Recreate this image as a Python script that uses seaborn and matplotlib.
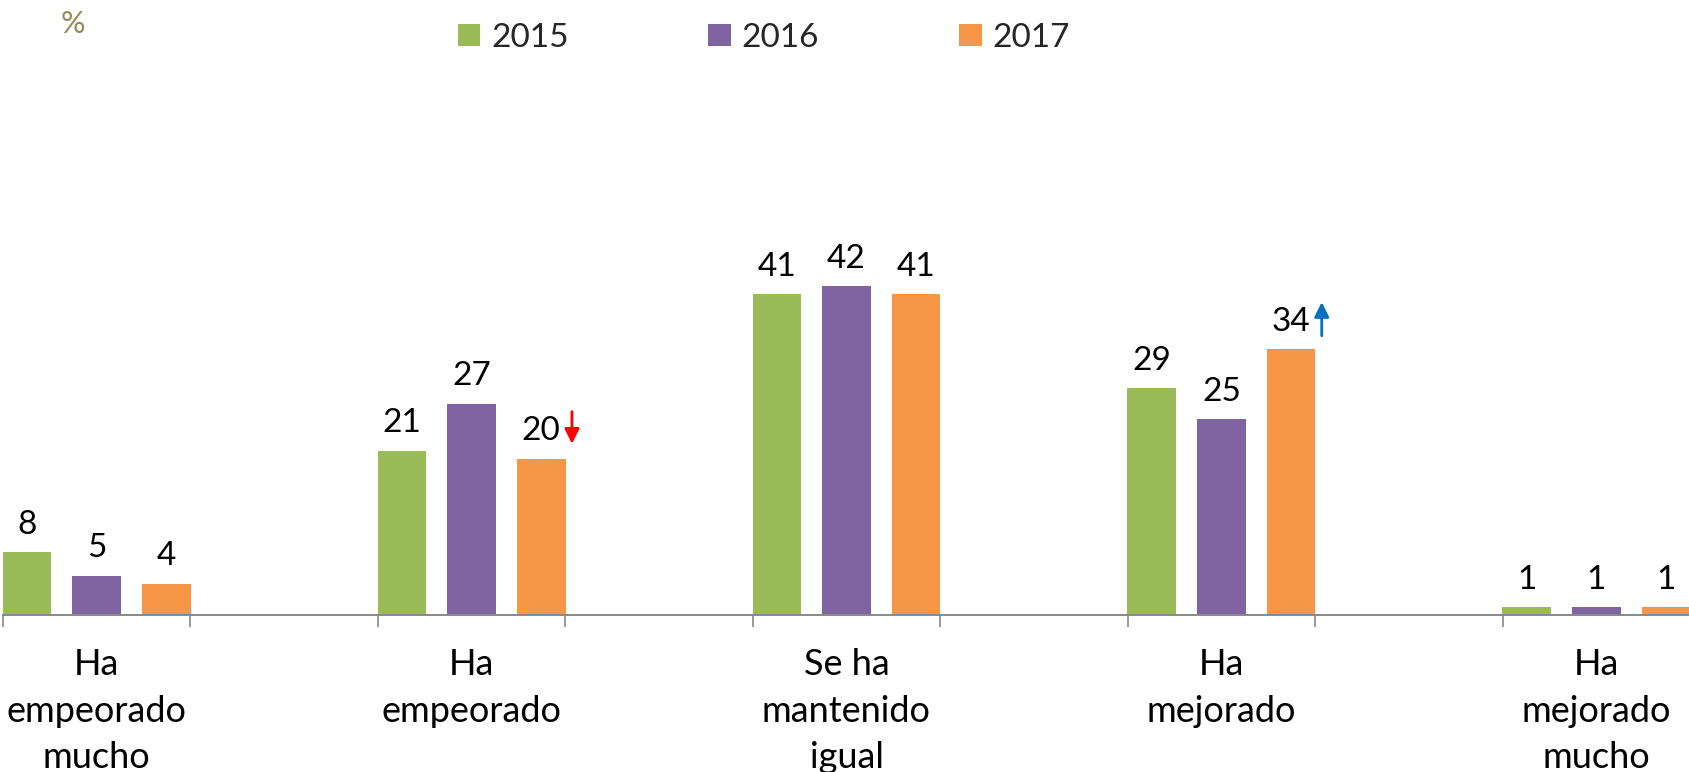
"""Evolución percibida 2015-2017 — barras agrupadas por categoría."""
import numpy as np
import pandas as pd
import matplotlib
matplotlib.use("Agg")
import matplotlib.pyplot as plt
import seaborn as sns

CATEGORIAS = ["Ha\nempeorado\nmucho", "Ha\nempeorado", "Se ha\nmantenido\nigual",
              "Ha\nmejorado", "Ha\nmejorado\nmucho"]
ANIOS = ["2015", "2016", "2017"]
V2015 = [8, 21, 41, 29, 1]
V2016 = [5, 27, 42, 25, 1]
V2017 = [4, 20, 41, 34, 1]
COLORES = ["#9BBB59", "#8064A2", "#F79646"]
GRIS = "#898989"

df = pd.DataFrame({
    "categoria": CATEGORIAS * 3,
    "anio": [a for a in ANIOS for _ in CATEGORIAS],
    "valor": V2015 + V2016 + V2017,
})

sns.set_theme(style="white")
plt.rcParams["font.family"] = ["Lato", "DejaVu Sans"]

fig = plt.figure(figsize=(16.9, 7.72), dpi=100)
ax = fig.add_axes([3 / 1690, 157 / 772, 1 - 3 / 1690, 0.7366])

sns.barplot(data=df, x="categoria", y="valor", hue="anio", order=CATEGORIAS,
            hue_order=ANIOS, palette=COLORES, saturation=1, width=0.557,
            gap=0.30, linewidth=0, ax=ax)

for cont in ax.containers:
    ax.bar_label(cont, fmt="%g", padding=9, fontsize=24, color="black")

# flechas de cambio significativo (2017)
naranja = ax.containers[2]
r = naranja[1]
x = r.get_x() + r.get_width() + 0.017
v = r.get_height()
ax.annotate("", xy=(x, v + 1.9), xytext=(x, v + 6.0),
            arrowprops=dict(arrowstyle="-|>", color="#FF0000", lw=2,
                            mutation_scale=22, shrinkA=0, shrinkB=0))
r = naranja[3]
x = r.get_x() + r.get_width() + 0.017
v = r.get_height()
ax.annotate("", xy=(x, v + 6.0), xytext=(x, v + 1.7),
            arrowprops=dict(arrowstyle="-|>", color="#0070C0", lw=2,
                            mutation_scale=22, shrinkA=0, shrinkB=0))

ax.set_xlim(-0.25, 4.25)
ax.set_ylim(0, 72.7)
ax.set_yticks([])
ax.set_xlabel("")
ax.set_ylabel("")
for s in ["left", "top", "right"]:
    ax.spines[s].set_visible(False)
ax.spines["bottom"].set_color(GRIS)
ax.spines["bottom"].set_linewidth(1.4)

ax.set_xticks(np.arange(-0.25, 4.26, 0.5), minor=True)
ax.tick_params(axis="x", which="minor", length=8.6, width=1.2, color=GRIS,
               direction="out", bottom=True)
ax.tick_params(axis="x", which="major", length=0, pad=24, labelsize=26,
               labelcolor="black")
for lab in ax.get_xticklabels():
    lab.set_linespacing(1.5)

sns.move_legend(ax, loc="center", bbox_to_anchor=(0.452, 0.951),
                bbox_transform=fig.transFigure, ncol=3, frameon=False,
                title=None, fontsize=24, handlelength=0.67, handleheight=0.67,
                handletextpad=0.33, columnspacing=4.2)

fig.text(73 / 1690, 1 - 24 / 772, "%", color="#948A54", fontsize=22,
         ha="center", va="center")

fig.savefig("out.png", dpi=100)
plt.close(fig)
